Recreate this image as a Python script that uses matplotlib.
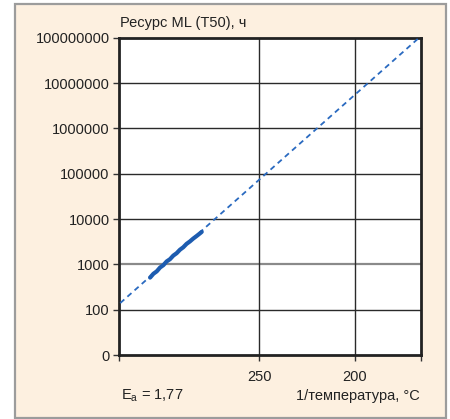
import numpy as np
import matplotlib
matplotlib.use("Agg")
import matplotlib.pyplot as plt
from matplotlib.patches import Rectangle

plt.rcParams['font.family'] = ['Liberation Sans', 'DejaVu Sans']

# x axis: 1000/T (K), labelled in deg C
temp_ticks_c = [250, 200]
# fitted Arrhenius line (dashed), ends
fit_inv_temp = [1.618, 2.2465]
fit_hours = [140, 9.5e7]
# measured points (solid blue band)
data_inv_temp = [1.681, 1.688, 1.695, 1.702, 1.709, 1.716, 1.723, 1.730, 1.737,
                 1.744, 1.751, 1.758, 1.765, 1.772, 1.779, 1.786, 1.790]
data_hours = [510, 620, 700, 850, 960, 1160, 1300, 1560, 1760,
              2100, 2380, 2830, 3200, 3700, 4200, 4800, 5200]
y_ticks = [10, 100, 1000, 10000, 100000, 1000000, 10000000, 100000000]
y_labels = ['0', '100', '1000', '10000', '100000', '1000000', '10000000', '100000000']

W, H = 450, 419
fig = plt.figure(figsize=(W / 100, H / 100), dpi=100)
fig.patch.set_facecolor('white')

# peach panel with grey border
fig.patches.append(Rectangle((15 / W, 1 - 418 / H), 431 / W, 414 / H,
                             transform=fig.transFigure, facecolor='#fdf0e0',
                             edgecolor='#9c9c9c', linewidth=1.6, zorder=-5))

ax = fig.add_axes([119.3 / W, 1 - 355 / H, 301.4 / W, 317.3 / H])
ax.set_zorder(2)
ax.set_facecolor('white')
ax.set_yscale('log')
ax.set_ylim(10, 1e8)
ax.set_xlim(1.616, 2.2522)

# grid
for y in y_ticks[1:-1]:
    if y == 1000:
        ax.axhline(y, color='#8a8a8a', lw=1.6, zorder=1)
    else:
        ax.axhline(y, color='#2a2a2a', lw=1.0, zorder=1)
tick_pos = [1000 / (t + 273.15) for t in temp_ticks_c]
for x in tick_pos:
    ax.axvline(x, color='#2a2a2a', lw=1.0, zorder=1)

ax.plot(fit_inv_temp, fit_hours, color='#2a6ac0', lw=1.3, dashes=(3, 2.3), zorder=3)
ax.plot(data_inv_temp, data_hours, color='#1d5cb0', lw=3.0, solid_capstyle='round', zorder=4)

ax.set_yticks(y_ticks)
ax.set_yticklabels(y_labels)
ax.yaxis.set_minor_locator(matplotlib.ticker.NullLocator())
ax.set_xticks([ax.get_xlim()[0]] + tick_pos + [ax.get_xlim()[1]])
ax.set_xticklabels([''] + [str(t) for t in temp_ticks_c] + [''])
ax.tick_params(axis='y', length=4, width=1, pad=3, labelsize=10.5, color='#333333', labelcolor='#222222')
ax.tick_params(axis='x', length=4, width=1, pad=7, labelsize=10.5, color='#333333', labelcolor='#222222')
for s in ax.spines.values():
    s.set_linewidth(2)
    s.set_color('#222222')

fig.text(120 / W, 1 - 23 / H, 'Ресурс ML (T50), ч', fontsize=10.5, va='center', ha='left', color='#222222')
fig.text(121 / W, 1 - 396 / H, r'E$_\mathregular{a}$ = 1,77', fontsize=10.5, va='center', ha='left', color='#222222')
fig.text(420 / W, 1 - 396 / H, '1/температура, °C', fontsize=10.5, va='center', ha='right', color='#222222')

fig.savefig('out.png', dpi=100)
